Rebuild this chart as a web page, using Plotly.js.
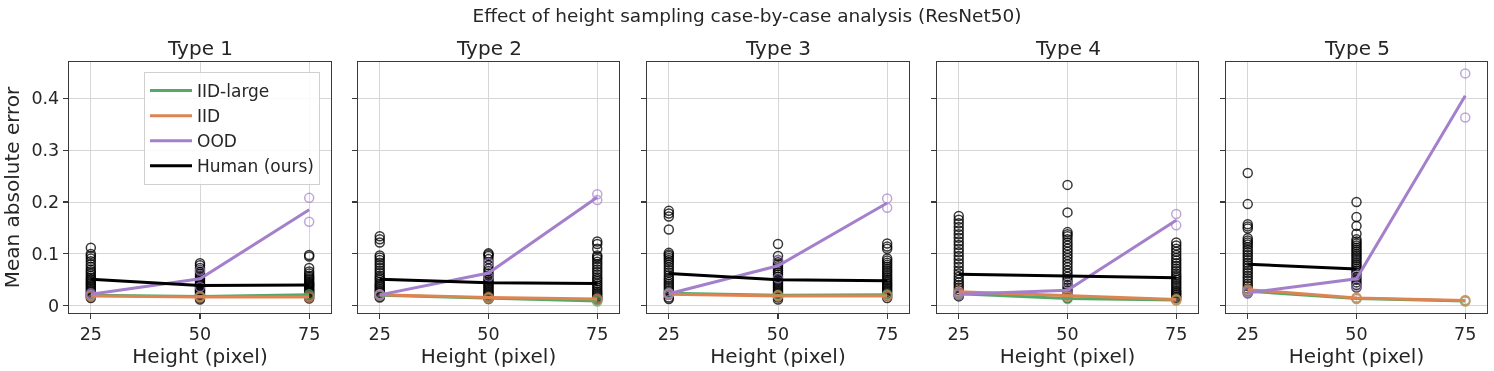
<!DOCTYPE html>
<html>
<head>
<meta charset="utf-8">
<script src="https://cdn.plot.ly/plotly-3.0.1.min.js"></script>
<style>html,body{margin:0;padding:0;background:#fff;}#chart{width:1494px;height:371px;}</style>
</head>
<body>
<div id="chart"></div>
<script>
// ---------------- data ----------------
const suptitle = "Effect of height sampling case-by-case analysis (ResNet50)";
const types = ["Type 1", "Type 2", "Type 3", "Type 4", "Type 5"];
const heights = [25, 50, 75];
const yTickVals = [0, 0.1, 0.2, 0.3, 0.4];
const yTickLabels = ["0", "0.1", "0.2", "0.3", "0.4"];
const seriesNames = ["IID-large", "IID", "OOD", "Human (ours)"];

// model means per type (at heights 25, 50, 75)
const iidLargeMean = [[0.020, 0.018, 0.021], [0.020, 0.014, 0.009], [0.024, 0.020, 0.021], [0.023, 0.014, 0.011], [0.028, 0.014, 0.009]];
const iidMean      = [[0.019, 0.017, 0.017], [0.021, 0.016, 0.013], [0.022, 0.019, 0.019], [0.027, 0.019, 0.012], [0.031, 0.015, 0.010]];
const oodMean      = [[0.022, 0.052, 0.185], [0.021, 0.063, 0.209], [0.023, 0.077, 0.198], [0.022, 0.030, 0.165], [0.025, 0.052, 0.405]];
const humanMean    = [[0.051, 0.039, 0.040], [0.051, 0.0445, 0.043], [0.062, 0.050, 0.048], [0.0605, 0.057, 0.054], [0.080, 0.071, null]];

// individual model runs
const iidLargeRunA = [[0.019, 0.017, 0.022], [0.019, 0.013, 0.008], [0.023, 0.019, 0.022], [0.022, 0.013, 0.010], [0.027, 0.013, 0.008]];
const iidLargeRunB = [[0.021, 0.019, 0.020], [0.021, 0.015, 0.010], [0.025, 0.021, 0.020], [0.024, 0.015, 0.012], [0.029, 0.015, 0.010]];
const iidRunA      = [[0.018, 0.016, 0.016], [0.020, 0.015, 0.012], [0.021, 0.018, 0.018], [0.026, 0.018, 0.011], [0.030, 0.014, 0.009]];
const iidRunB      = [[0.020, 0.018, 0.018], [0.022, 0.017, 0.014], [0.023, 0.020, 0.020], [0.028, 0.020, 0.013], [0.032, 0.016, 0.011]];
const oodRunA      = [[0.021, 0.068, 0.208], [0.020, 0.083, 0.215], [0.022, 0.088, 0.207], [0.021, 0.043, 0.177], [0.024, 0.059, 0.448]];
const oodRunB      = [[0.024, 0.036, 0.162], [0.022, 0.056, 0.204], [0.024, 0.053, 0.189], [0.024, 0.024, 0.155], [0.027, 0.037, 0.363]];

// human participants, per type, at heights 25 / 50 / 75
const human25 = [
  [0.112,0.100,0.096,0.091,0.086,0.080,0.075,0.070,0.066,0.062,0.058,0.054,0.051,0.048,0.045,0.042,0.039,0.036,0.033,0.030,0.027,0.024,0.021,0.018,0.015],
  [0.134,0.128,0.122,0.097,0.093,0.088,0.083,0.078,0.073,0.068,0.063,0.058,0.054,0.050,0.046,0.042,0.039,0.036,0.033,0.030,0.027,0.024,0.021,0.018,0.016],
  [0.183,0.178,0.172,0.147,0.102,0.099,0.096,0.092,0.088,0.084,0.079,0.074,0.069,0.064,0.059,0.054,0.050,0.046,0.042,0.038,0.034,0.030,0.026,0.021,0.016,0.013],
  [0.173,0.166,0.159,0.152,0.145,0.138,0.131,0.124,0.117,0.110,0.103,0.096,0.089,0.082,0.075,0.068,0.062,0.056,0.050,0.045,0.040,0.035,0.030,0.025,0.021,0.018],
  [0.256,0.196,0.157,0.153,0.149,0.130,0.126,0.122,0.118,0.113,0.108,0.103,0.098,0.093,0.088,0.083,0.078,0.073,0.068,0.063,0.058,0.053,0.048,0.043,0.038,0.033,0.028,0.024]
];
const human50 = [
  [0.082,0.078,0.073,0.069,0.065,0.061,0.057,0.053,0.050,0.047,0.044,0.041,0.039,0.037,0.035,0.033,0.031,0.029,0.027,0.025,0.022,0.020,0.018,0.015,0.012],
  [0.101,0.099,0.096,0.090,0.084,0.078,0.072,0.067,0.062,0.058,0.054,0.050,0.047,0.044,0.041,0.038,0.035,0.032,0.029,0.026,0.023,0.020,0.017,0.015,0.013],
  [0.119,0.096,0.088,0.084,0.080,0.076,0.072,0.068,0.064,0.060,0.056,0.052,0.049,0.046,0.043,0.040,0.037,0.034,0.031,0.028,0.025,0.022,0.019,0.016,0.012],
  [0.233,0.180,0.142,0.138,0.134,0.128,0.122,0.116,0.110,0.104,0.098,0.092,0.086,0.080,0.074,0.068,0.062,0.056,0.050,0.045,0.040,0.035,0.030,0.025,0.020,0.015],
  [0.200,0.171,0.154,0.139,0.128,0.124,0.120,0.116,0.112,0.108,0.104,0.100,0.096,0.092,0.088,0.084,0.080,0.076,0.072,0.068,0.064,0.060,0.055,0.050,0.045,0.040,0.035]
];
const human75 = [
  [0.098,0.095,0.073,0.066,0.062,0.058,0.055,0.052,0.049,0.046,0.044,0.042,0.040,0.038,0.036,0.034,0.032,0.030,0.028,0.026,0.024,0.022,0.020,0.017,0.014],
  [0.124,0.119,0.110,0.097,0.094,0.090,0.085,0.080,0.075,0.070,0.065,0.060,0.055,0.051,0.047,0.043,0.039,0.035,0.031,0.027,0.024,0.021,0.018,0.015,0.012],
  [0.120,0.114,0.110,0.091,0.087,0.083,0.079,0.075,0.071,0.067,0.063,0.059,0.055,0.051,0.048,0.045,0.042,0.039,0.036,0.033,0.030,0.027,0.023,0.019,0.015],
  [0.122,0.116,0.110,0.104,0.098,0.092,0.087,0.082,0.077,0.072,0.067,0.062,0.058,0.054,0.050,0.046,0.042,0.038,0.034,0.030,0.027,0.024,0.021,0.018,0.015],
  []
];

// ---------------- styles ----------------
const COLORS = { iidLarge: "#55a868", iid: "#dd8452", ood: "#a47fcb", human: "#000000" };
const FONT = "DejaVu Sans, Liberation Sans, sans-serif";
const TEXT = "#262626";
const xDomains = [[69, 331], [358, 619], [647, 909], [937, 1198], [1226, 1487]].map(d => [d[0] / 1494, d[1] / 1494]);
const yDomain = [(371 - 313) / 371, (371 - 62) / 371];

const traces = [];
const layout = {
  width: 1494, height: 371,
  margin: { l: 0, r: 0, t: 0, b: 0 },
  paper_bgcolor: "#ffffff", plot_bgcolor: "#ffffff",
  font: { family: FONT, color: TEXT, size: 17 },
  title: { text: suptitle, x: 0.5, xanchor: "center", y: (371 - 16) / 371, yanchor: "middle", font: { size: 18.5, family: FONT, color: TEXT } },
  showlegend: true,
  legend: {
    x: 144 / 1494, y: (371 - 72) / 371, xanchor: "left", yanchor: "top",
    bgcolor: "rgba(255,255,255,0.85)", bordercolor: "#d0d0d0", borderwidth: 1,
    font: { size: 17, family: FONT, color: TEXT }, tracegroupgap: 0, itemwidth: 42
  },
  annotations: []
};

types.forEach((t, i) => {
  const sx = i === 0 ? "" : String(i + 1);
  const xa = "x" + sx, ya = "y" + sx;

  // human scatter
  const hx = [], hy = [];
  [human25[i], human50[i], human75[i]].forEach((col, k) => { col.forEach(v => { hx.push(heights[k]); hy.push(v); }); });
  traces.push({ type: "scatter", mode: "markers", x: hx, y: hy, xaxis: xa, yaxis: ya, showlegend: false, hoverinfo: "skip",
    marker: { symbol: "circle-open", size: 9, color: "rgba(0,0,0,0.78)", line: { width: 1.5 } } });

  // model run scatters
  [[iidLargeRunA, iidLargeRunB, COLORS.iidLarge], [iidRunA, iidRunB, COLORS.iid], [oodRunA, oodRunB, COLORS.ood]].forEach(([a, b, c]) => {
    traces.push({ type: "scatter", mode: "markers", x: heights.concat(heights), y: a[i].concat(b[i]), xaxis: xa, yaxis: ya,
      showlegend: false, hoverinfo: "skip", opacity: 0.7,
      marker: { symbol: "circle-open", size: 9, color: c, line: { width: 1.5 } } });
  });

  // mean lines
  [[iidLargeMean, COLORS.iidLarge, seriesNames[0]], [iidMean, COLORS.iid, seriesNames[1]], [oodMean, COLORS.ood, seriesNames[2]], [humanMean, COLORS.human, seriesNames[3]]]
    .forEach(([m, c, name]) => {
      traces.push({ type: "scatter", mode: "lines", x: heights, y: m[i], xaxis: xa, yaxis: ya, name: name,
        legendgroup: name, showlegend: i === 0, line: { color: c, width: 3 } });
    });

  layout["xaxis" + sx] = {
    domain: xDomains[i], anchor: ya, range: [20, 80], tickvals: heights, ticktext: heights.map(String),
    showgrid: true, gridcolor: "#d6d6d6", gridwidth: 1, zeroline: false,
    showline: true, mirror: true, linecolor: "#3a3a3a", linewidth: 1.25,
    ticks: "outside", ticklen: 5, tickwidth: 1.1, tickcolor: "#3a3a3a",
    tickfont: { size: 17.5, family: FONT, color: TEXT },
    title: { text: "Height (pixel)", font: { size: 20, family: FONT, color: TEXT }, standoff: 4 },
    fixedrange: true
  };
  layout["yaxis" + sx] = {
    domain: yDomain, anchor: xa, range: [-0.014, 0.47], tickvals: yTickVals, ticktext: yTickLabels,
    showticklabels: i === 0,
    showgrid: true, gridcolor: "#d6d6d6", gridwidth: 1, zeroline: false,
    showline: true, mirror: true, linecolor: "#3a3a3a", linewidth: 1.25,
    ticks: "outside", ticklen: 5, tickwidth: 1.1, tickcolor: "#3a3a3a",
    tickfont: { size: 17.5, family: FONT, color: TEXT },
    title: i === 0 ? { text: "Mean absolute error", font: { size: 20, family: FONT, color: TEXT }, standoff: 6 } : { text: "" },
    fixedrange: true
  };

  layout.annotations.push({
    text: t, xref: "paper", yref: "paper", x: (xDomains[i][0] + xDomains[i][1]) / 2, y: yDomain[1],
    xanchor: "center", yanchor: "bottom", yshift: 0, showarrow: false,
    font: { size: 20, family: FONT, color: TEXT }
  });
});

Plotly.newPlot("chart", traces, layout, { displayModeBar: false, staticPlot: true });
</script>
</body>
</html>
